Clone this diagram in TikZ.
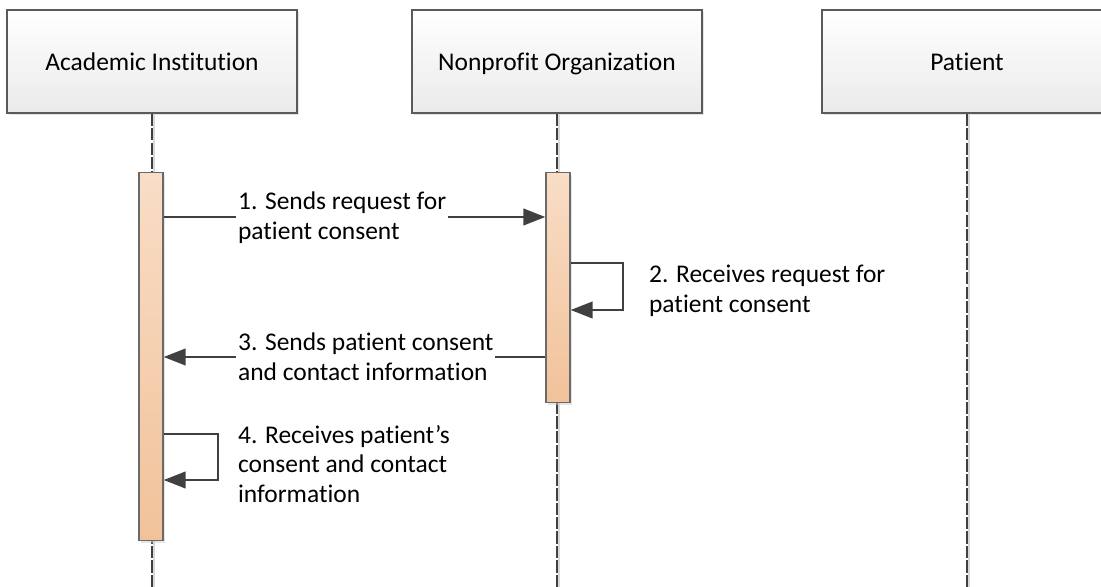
\documentclass[tikz,border=0pt]{standalone}
\usepackage{fontspec}
\setmainfont{Carlito}[Ligatures={NoCommon}]
\usetikzlibrary{arrows.meta,shadows}

\definecolor{linegray}{HTML}{404040}
\definecolor{boxedge}{HTML}{5A5A5A}
\definecolor{boxbottom}{HTML}{EAEAEA}
\definecolor{bartop}{HTML}{F9DDC6}
\definecolor{barbottom}{HTML}{F1C29A}
\definecolor{baredge}{HTML}{6A6A6A}

\tikzset{
  actor/.style={draw=boxedge, thick, top color=white, bottom color=boxbottom,
    minimum width=5.8cm, minimum height=2.06cm, inner sep=0pt,
    text height=0.98em, text depth=0pt,
    drop shadow={shadow xshift=1.2pt, shadow yshift=-1.2pt, fill=black!20},
    font=\fontsize{14.5}{17}\selectfont},
  actbar/.style={draw=baredge, thick, top color=bartop, bottom color=barbottom,
    minimum width=0.48cm, inner sep=0pt, anchor=north,
    drop shadow={shadow xshift=1.2pt, shadow yshift=-1.2pt, fill=black!20}},
  lifeline/.style={draw=linegray, dash pattern=on 7pt off 1.2pt, line width=0.6pt},
  msg/.style={draw=linegray, line width=1.1pt,
    -{Triangle[length=12.5pt, width=9.5pt]}},
  msgtext/.style={align=left, inner sep=1pt, font=\fontsize{14.5}{17}\selectfont},
}

\begin{document}
\begin{tikzpicture}[x=0.02cm, y=-0.02cm]
    \useasboundingbox (0,0) rectangle (1101,587);
    \clip (0,0) rectangle (1101,587);

    % lifelines
    \node[actor] (ai) at (152,61.5) {Academic Institution};
    \node[actor] (npo) at (557,61.5) {Nonprofit Organization};
    \node[actor] (pat) at (967,61.5) {Patient};
    \foreach \n in {ai,npo,pat} {
        \draw [black!15, line width=1pt] ([xshift=1.3pt]\n.south) -- ++(0,480);
        \draw [lifeline] (\n.south) -- ++(0,480);
    }

    % activations
    \node[actbar, minimum height=7.36cm] (aibar) at (151,172) {};
    \node[actbar, minimum height=4.6cm] (npobar) at (558,172) {};

    % messages
    \coordinate (m1) at (0,217);
    \coordinate (m2a) at (623,263);
    \coordinate (m2b) at (623,310);
    \coordinate (m3) at (0,357);
    \coordinate (m4a) at (218,434);
    \coordinate (m4b) at (218,480);

    \draw [msg] (aibar.east |- m1) -- (npobar.west |- m1);
    \draw [msg] (npobar.east |- m2a) -- (m2a) -- (m2b) -- (npobar.east |- m2b);
    \draw [msg] (npobar.west |- m3) -- (aibar.east |- m3);
    \draw [msg] (aibar.east |- m4a) -- (m4a) -- (m4b) -- (aibar.east |- m4b);

    \node[msgtext, fill=white, anchor=west] (t1) at (236,218) {1. Sends request for\\patient consent};
    \node[msgtext, anchor=west] (t2) at (647,291) {2. Receives request for\\patient consent};
    \node[msgtext, fill=white, anchor=west] (t3) at (236,357) {3. Sends patient consent\\and contact information};
    \node[msgtext, anchor=west] (t4) at (236,464) {4. Receives patient’s\\consent and contact\\information};
\end{tikzpicture}
\end{document}
